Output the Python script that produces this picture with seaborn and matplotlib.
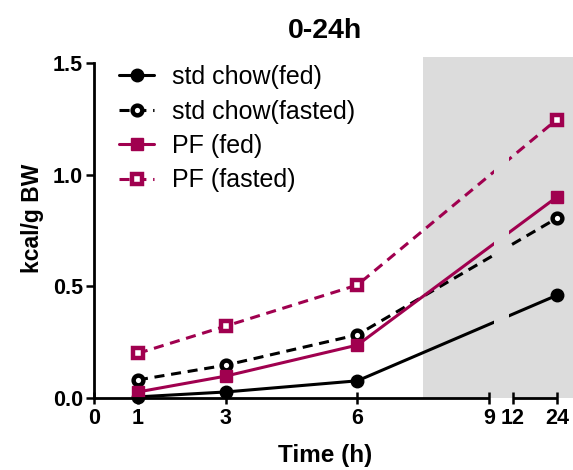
import numpy as np
import pandas as pd
import matplotlib
matplotlib.use("Agg")
import matplotlib.pyplot as plt
import seaborn as sns

# data
time_h = [1, 3, 6, 24]
chow_fed = [0.005, 0.027, 0.077, 0.46]
chow_fasted = [0.081, 0.147, 0.283, 0.805]
pf_fed = [0.027, 0.098, 0.237, 0.90]
pf_fasted = [0.20, 0.322, 0.506, 1.247]

series_names = ["std chow(fed)", "std chow(fasted)", "PF (fed)", "PF (fasted)"]
x_ticks = [0, 1, 3, 6, 9, 12, 24]
y_ticks = [0.0, 0.5, 1.0, 1.5]

# dark phase shading and axis break
dark_start = 7.5
break_lo, break_hi = 9, 12

BLACK = "#000000"
CRIMSON = "#A0004F"
GRAY = "#DCDCDC"

# broken x-axis: 0-9 linear, then 12-24 compressed into one unit
gap = 0.544


def fwd(x):
    x = np.asarray(x, dtype=float)
    return np.where(x <= break_lo, x,
                    np.where(x < break_hi, break_lo + (x - break_lo) * gap / (break_hi - break_lo),
                             break_lo + gap + (x - break_hi) / 12.0))


def inv(s):
    s = np.asarray(s, dtype=float)
    return np.where(s <= break_lo, s,
                    np.where(s < break_lo + gap, break_lo + (s - break_lo) * (break_hi - break_lo) / gap,
                             break_hi + (s - break_lo - gap) * 12.0))


sns.set_style("ticks")
plt.rcParams["font.family"] = ["Liberation Sans", "DejaVu Sans"]
plt.rcParams.update({"text.color": BLACK, "axes.labelcolor": BLACK,
                     "xtick.color": BLACK, "ytick.color": BLACK,
                     "axes.edgecolor": BLACK})

fig = plt.figure(figsize=(5.73, 4.70), dpi=100)
ax = fig.add_axes([94 / 573, 1 - 398 / 470, 479 / 573, 341 / 470])
ax.set_xscale("function", functions=(fwd, inv))
x_max = float(inv(479 / 43.9))
ax.set_xlim(0, x_max)
ax.set_ylim(0, 1.527)

ax.axvspan(dark_start, x_max, color=GRAY, lw=0, zorder=0)

styles = [
    (chow_fed, BLACK, "o", "-", BLACK),
    (chow_fasted, BLACK, "o", (0, (3.3, 2.2)), "white"),
    (pf_fed, CRIMSON, "s", "-", CRIMSON),
    (pf_fasted, CRIMSON, "s", (0, (3.3, 2.2)), "white"),
]
for name, (vals, col, mk, ls, fc) in zip(series_names, styles):
    df = pd.DataFrame({"time": time_h, "kcal": vals})
    open_mk = fc == "white"
    sns.lineplot(data=df, x="time", y="kcal", ax=ax, color=col, errorbar=None,
                 linestyle=ls, linewidth=2.2, marker=mk,
                 markersize=7 if open_mk else 9, markerfacecolor=fc,
                 markeredgecolor=col, markeredgewidth=3.2 if open_mk else 1,
                 label=name, zorder=4, clip_on=False)

# gap in the lines where the axis is broken
ax.axvspan(9.6, 11.5, color=GRAY, lw=0, zorder=4.5)

# broken bottom axis
ax.spines["bottom"].set_visible(False)
ax.spines["top"].set_visible(False)
ax.spines["right"].set_visible(False)
ax.spines["left"].set_linewidth(2)
ax.spines["left"].set_bounds(0, 1.5)
for seg in [(x_ticks[0], break_lo), (break_hi, x_ticks[-1])]:
    ax.plot(seg, [0, 0], color=BLACK, lw=2, clip_on=False, zorder=5, solid_capstyle="butt")

ax.set_xticks(x_ticks)
ax.set_xticklabels([str(t) for t in x_ticks])
ax.set_yticks(y_ticks)
ax.set_yticklabels([f"{v:.1f}" for v in y_ticks])
ax.xaxis.set_minor_locator(matplotlib.ticker.NullLocator())
ax.tick_params(axis="x", direction="inout", length=9, width=1.8, pad=3,
               labelsize=15.5)
ax.tick_params(axis="y", direction="out", length=6, width=1.8, pad=2,
               labelsize=15.5)
for lab in ax.get_xticklabels() + ax.get_yticklabels():
    lab.set_fontweight("bold")

ax.set_xlabel("Time (h)", fontsize=17.5, fontweight="bold")
ax.set_ylabel("kcal/g BW", fontsize=16.5, fontweight="bold")
ax.xaxis.set_label_coords(0.482, -0.135)
ax.yaxis.set_label_coords(-0.104, 0.528)
ax.set_title("0-24h", fontsize=20.5, fontweight="bold", x=0.482, pad=14)

ax.legend(loc="upper left", bbox_to_anchor=(119 / 573, 1 - 65 / 470),
          bbox_transform=fig.transFigure, frameon=False, fontsize=18,
          handlelength=1.4, handletextpad=0.72, labelspacing=0.42,
          borderpad=0, borderaxespad=0)

fig.savefig("out.png", dpi=100)
